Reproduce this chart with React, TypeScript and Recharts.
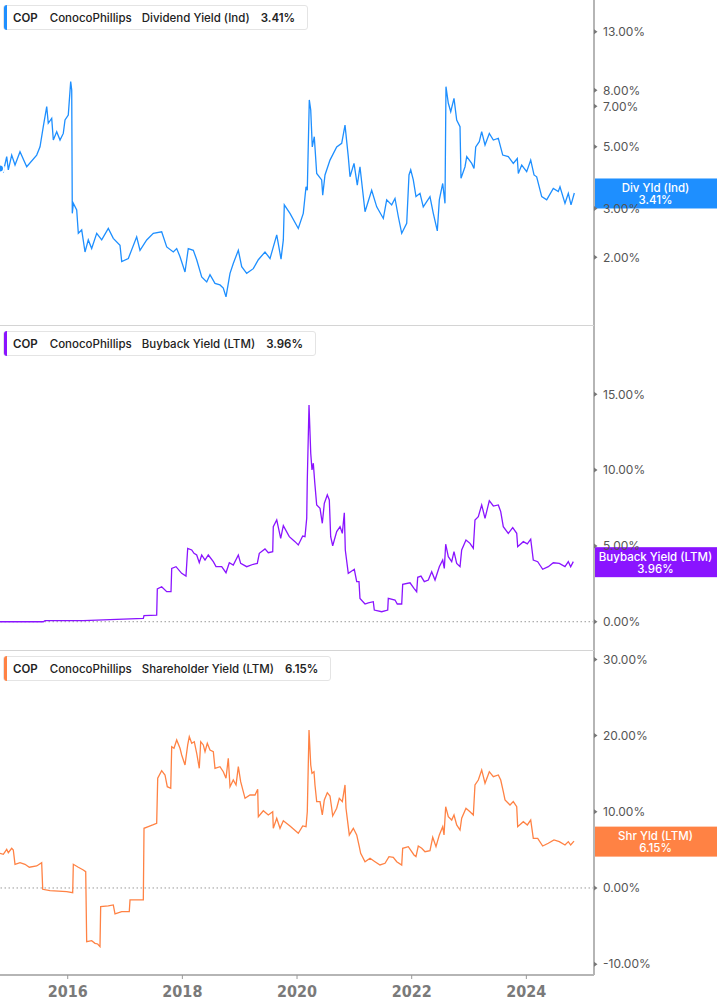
import React from 'react';
import { LineChart, Line, XAxis, YAxis, ReferenceLine } from 'recharts';

const X_DOMAIN: [number, number] = [2014.819, 2025.18];
const yearTicks = [2016, 2018, 2020, 2022, 2024];
const divTicks = [2, 3, 5, 7, 8, 13];
const buybackTicks = [0, 5, 10, 15];
const shrTicks = [-10, 0, 10, 20, 30];

const divLast = 3.41;
const buybackLast = 3.96;
const shrLast = 6.15;

// [decimal year, dividend yield %]
const dividendYield: [number, number][] = [
  [2014.819, 4.18], [2014.877, 4.07], [2014.936, 4.61], [2014.964, 4.13], [2015.023, 4.67],
  [2015.081, 4.3], [2015.168, 4.8], [2015.285, 4.24], [2015.459, 4.67], [2015.517, 5.0],
  [2015.574, 5.91], [2015.634, 6.98], [2015.661, 6.08], [2015.721, 6.33], [2015.749, 5.29],
  [2015.808, 5.67], [2015.866, 5.29], [2015.923, 5.59], [2015.953, 6.25], [2016.01, 6.51],
  [2016.052, 8.59], [2016.07, 8.01], [2016.08, 2.88], [2016.098, 3.13], [2016.157, 2.96],
  [2016.185, 2.44], [2016.244, 2.51], [2016.302, 2.09], [2016.359, 2.31], [2016.418, 2.15],
  [2016.506, 2.44], [2016.593, 2.31], [2016.708, 2.54], [2016.795, 2.34], [2016.912, 2.21],
  [2016.942, 1.93], [2017.057, 1.98], [2017.203, 2.37], [2017.261, 2.12], [2017.378, 2.31],
  [2017.493, 2.44], [2017.639, 2.47], [2017.727, 2.18], [2017.842, 2.09], [2017.901, 2.15],
  [2017.959, 2.01], [2018.046, 1.77], [2018.103, 2.15], [2018.191, 2.12], [2018.25, 1.96],
  [2018.337, 1.7], [2018.425, 1.63], [2018.482, 1.73], [2018.569, 1.61], [2018.656, 1.59],
  [2018.714, 1.55], [2018.761, 1.44], [2018.831, 1.75], [2018.888, 1.9], [2018.976, 2.12],
  [2019.035, 1.85], [2019.122, 1.75], [2019.237, 1.82], [2019.325, 1.96], [2019.441, 2.09],
  [2019.529, 1.98], [2019.646, 2.41], [2019.721, 1.97], [2019.761, 2.31], [2019.778, 3.09],
  [2019.877, 2.88], [2020.022, 2.54], [2020.109, 2.88], [2020.157, 3.59], [2020.179, 3.49],
  [2020.214, 7.38], [2020.239, 6.79], [2020.266, 5.0], [2020.301, 5.44], [2020.343, 4.01],
  [2020.43, 3.8], [2020.448, 3.35], [2020.488, 3.96], [2020.575, 4.48], [2020.692, 5.0],
  [2020.779, 5.15], [2020.837, 5.99], [2020.894, 4.61], [2020.924, 3.9], [2020.994, 4.36],
  [2021.051, 3.64], [2021.098, 4.24], [2021.186, 2.92], [2021.302, 3.49], [2021.39, 3.04],
  [2021.505, 2.76], [2021.564, 3.22], [2021.651, 3.09], [2021.709, 3.26], [2021.767, 2.8],
  [2021.826, 2.44], [2021.913, 2.65], [2021.953, 3.96], [2021.983, 4.13], [2022.028, 3.8],
  [2022.075, 3.31], [2022.145, 3.4], [2022.202, 3.04], [2022.319, 3.31], [2022.377, 2.88],
  [2022.447, 2.49], [2022.482, 3.22], [2022.541, 3.69], [2022.581, 3.13], [2022.598, 8.24],
  [2022.639, 7.18], [2022.681, 6.69], [2022.738, 7.48], [2022.785, 6.25], [2022.843, 5.91],
  [2022.86, 3.85], [2022.93, 4.24], [2022.96, 4.61], [2023.047, 4.36], [2023.087, 4.18],
  [2023.117, 5.0], [2023.179, 5.22], [2023.221, 5.67], [2023.279, 5.08], [2023.354, 5.59],
  [2023.424, 5.29], [2023.511, 5.37], [2023.588, 4.67], [2023.685, 4.61], [2023.772, 4.36],
  [2023.842, 4.54], [2023.86, 4.01], [2023.919, 4.3], [2024.006, 4.07], [2024.076, 4.48],
  [2024.134, 3.96], [2024.18, 3.9], [2024.268, 3.31], [2024.355, 3.22], [2024.47, 3.54],
  [2024.557, 3.45], [2024.587, 3.59], [2024.674, 3.13], [2024.732, 3.4], [2024.779, 3.09],
  [2024.837, 3.41],
];

// [decimal year, buyback yield %]
const buybackYield: [number, number][] = [
  [2014.819, 0.0], [2015.574, 0.0], [2015.604, 0.07], [2016.272, 0.07], [2017.319, 0.22],
  [2017.331, 0.4], [2017.552, 0.44], [2017.563, 2.16], [2017.639, 2.31], [2017.727, 1.98],
  [2017.802, 1.98], [2017.814, 3.52], [2017.889, 3.63], [2017.988, 3.19], [2018.063, 3.01],
  [2018.093, 4.84], [2018.163, 4.73], [2018.203, 4.51], [2018.25, 4.4], [2018.295, 3.89],
  [2018.337, 4.4], [2018.395, 4.07], [2018.452, 4.4], [2018.54, 3.96], [2018.587, 3.63],
  [2018.686, 3.63], [2018.761, 3.23], [2018.819, 3.89], [2018.888, 3.74], [2018.976, 4.4],
  [2019.017, 3.85], [2019.122, 3.63], [2019.237, 3.79], [2019.307, 3.85], [2019.342, 4.51],
  [2019.441, 4.8], [2019.499, 4.55], [2019.576, 4.62], [2019.586, 6.27], [2019.646, 6.71],
  [2019.715, 5.5], [2019.761, 6.33], [2019.865, 5.61], [2019.965, 5.28], [2020.022, 5.06],
  [2020.099, 5.65], [2020.139, 5.61], [2020.169, 6.82], [2020.179, 9.35], [2020.209, 14.29],
  [2020.239, 11.11], [2020.261, 10.01], [2020.284, 10.45], [2020.308, 9.23], [2020.343, 7.7],
  [2020.401, 7.48], [2020.441, 6.49], [2020.476, 7.81], [2020.528, 8.36], [2020.563, 8.03],
  [2020.587, 5.61], [2020.622, 5.01], [2020.692, 5.94], [2020.75, 6.27], [2020.79, 5.83],
  [2020.825, 7.19], [2020.842, 4.73], [2020.894, 3.19], [2020.936, 3.3], [2020.999, 3.46],
  [2021.041, 2.64], [2021.081, 2.64], [2021.098, 1.54], [2021.186, 1.17], [2021.243, 1.25],
  [2021.33, 1.32], [2021.348, 0.77], [2021.477, 0.66], [2021.582, 0.77], [2021.592, 1.54],
  [2021.709, 1.43], [2021.749, 1.17], [2021.826, 1.17], [2021.843, 2.47], [2021.971, 2.57],
  [2022.04, 2.2], [2022.087, 1.98], [2022.105, 2.93], [2022.162, 3.01], [2022.22, 2.64],
  [2022.29, 2.75], [2022.349, 3.3], [2022.407, 2.75], [2022.482, 3.63], [2022.541, 4.07],
  [2022.569, 3.52], [2022.593, 5.11], [2022.639, 4.29], [2022.698, 3.96], [2022.738, 4.62],
  [2022.785, 3.85], [2022.843, 3.63], [2022.872, 4.73], [2022.947, 5.39], [2023.017, 5.17],
  [2023.075, 4.84], [2023.104, 6.71], [2023.162, 6.93], [2023.221, 7.7], [2023.279, 6.82],
  [2023.354, 7.98], [2023.424, 7.63], [2023.511, 7.7], [2023.553, 7.26], [2023.598, 6.27],
  [2023.685, 5.83], [2023.762, 6.2], [2023.832, 5.83], [2023.849, 4.95], [2023.947, 5.28],
  [2024.017, 5.13], [2024.076, 5.44], [2024.121, 4.07], [2024.198, 3.96], [2024.285, 3.46],
  [2024.383, 3.63], [2024.47, 3.89], [2024.575, 3.85], [2024.674, 3.63], [2024.732, 3.96],
  [2024.773, 3.63], [2024.819, 3.96],
];

// [decimal year, shareholder yield %]
const shareholderYield: [number, number][] = [
  [2014.819, 4.55], [2014.877, 4.42], [2014.936, 5.08], [2014.964, 4.63], [2015.023, 5.21],
  [2015.051, 4.99], [2015.081, 3.11], [2015.168, 3.32], [2015.255, 3.11], [2015.33, 2.72],
  [2015.459, 2.89], [2015.546, 3.32], [2015.564, -0.17], [2015.691, -0.35], [2015.982, -0.49],
  [2016.087, -0.62], [2016.098, 3.11], [2016.185, 2.72], [2016.272, 2.36], [2016.314, 2.14],
  [2016.331, -7.05], [2016.418, -6.92], [2016.476, -7.26], [2016.523, -7.35], [2016.563, -7.7],
  [2016.575, -2.45], [2016.708, -2.36], [2016.795, -2.23], [2016.825, -3.41], [2016.942, -3.11],
  [2017.074, -3.11], [2017.087, -1.57], [2017.319, -1.57], [2017.331, 7.83], [2017.406, 8.04],
  [2017.483, 8.27], [2017.552, 8.49], [2017.57, 14.4], [2017.639, 15.39], [2017.697, 14.83],
  [2017.737, 13.29], [2017.797, 13.08], [2017.814, 18.54], [2017.854, 18.33], [2017.901, 19.42],
  [2017.959, 18.33], [2017.988, 17.45], [2018.046, 16.14], [2018.093, 18.77], [2018.121, 19.86],
  [2018.163, 18.99], [2018.208, 19.2], [2018.25, 17.68], [2018.295, 15.71], [2018.32, 19.2],
  [2018.365, 18.77], [2018.395, 17.89], [2018.435, 18.99], [2018.482, 18.11], [2018.54, 17.89],
  [2018.569, 15.71], [2018.656, 15.92], [2018.714, 15.26], [2018.761, 14.4], [2018.801, 17.02],
  [2018.831, 13.29], [2018.888, 14.17], [2018.936, 13.52], [2018.976, 15.92], [2019.017, 13.95],
  [2019.093, 11.77], [2019.18, 12.2], [2019.267, 12.2], [2019.314, 12.95], [2019.325, 9.36],
  [2019.412, 10.14], [2019.499, 9.58], [2019.576, 10.01], [2019.586, 7.83], [2019.646, 9.15],
  [2019.703, 7.83], [2019.761, 8.83], [2019.877, 8.14], [2020.022, 7.18], [2020.099, 8.14],
  [2020.157, 8.04], [2020.179, 10.01], [2020.209, 20.73], [2020.239, 16.14], [2020.261, 15.05],
  [2020.296, 15.26], [2020.313, 13.52], [2020.343, 11.33], [2020.401, 11.33], [2020.441, 9.58],
  [2020.476, 11.55], [2020.528, 12.51], [2020.575, 12.07], [2020.605, 10.46], [2020.622, 9.45],
  [2020.692, 10.46], [2020.737, 11.77], [2020.79, 11.33], [2020.837, 13.52], [2020.854, 10.46],
  [2020.912, 6.96], [2020.982, 7.83], [2021.041, 6.96], [2021.086, 5.42], [2021.11, 4.55],
  [2021.186, 3.45], [2021.273, 3.9], [2021.36, 3.45], [2021.447, 3.02], [2021.535, 3.24],
  [2021.604, 4.11], [2021.679, 4.03], [2021.739, 3.45], [2021.826, 3.02], [2021.843, 5.21],
  [2021.941, 5.42], [2022.04, 4.33], [2022.075, 4.11], [2022.115, 5.51], [2022.175, 5.21],
  [2022.232, 4.76], [2022.319, 4.9], [2022.367, 6.65], [2022.424, 5.42], [2022.482, 6.96],
  [2022.541, 8.04], [2022.564, 6.96], [2022.593, 10.67], [2022.639, 9.36], [2022.698, 8.92],
  [2022.738, 9.58], [2022.785, 8.27], [2022.843, 7.61], [2022.872, 9.15], [2022.947, 10.46],
  [2023.017, 10.01], [2023.075, 9.58], [2023.104, 13.52], [2023.162, 14.17], [2023.221, 15.49],
  [2023.279, 13.74], [2023.354, 15.26], [2023.424, 14.61], [2023.511, 14.83], [2023.553, 14.17],
  [2023.598, 12.64], [2023.628, 11.55], [2023.715, 10.89], [2023.772, 11.33], [2023.832, 10.67],
  [2023.849, 8.04], [2023.947, 8.7], [2024.017, 8.27], [2024.076, 8.92], [2024.121, 6.52],
  [2024.198, 6.52], [2024.285, 5.51], [2024.383, 5.87], [2024.482, 6.3], [2024.575, 6.08],
  [2024.674, 5.64], [2024.732, 6.08], [2024.773, 5.64], [2024.831, 6.15],
];

const toRows = (pairs: [number, number][]) => pairs.map(([t, v]) => ({ t, v }));

const W = 717;
const AXIS_W = 123;
const FONT = "Inter, 'Noto Sans', sans-serif";

function YTick(props: any) {
  const { x, y, payload } = props;
  return (
    <g>
      <path d={`M${x},${y - 2.5}L${x + 3.5},${y}L${x},${y + 2.5}Z`} fill="#777" />
      <text x={x + 9} y={y + 4.3} fontSize={12} fill="#555" fontFamily={FONT}>
        {`${Number(payload.value).toFixed(2)}%`}
      </text>
    </g>
  );
}

function XTick(props: any) {
  const { x, y, payload } = props;
  return (
    <text
      x={x}
      y={y + 14}
      textAnchor="middle"
      fontSize={16}
      fontWeight="bold"
      fill="#7a7a7a"
      fontFamily="'Liberation Sans Narrow', 'DejaVu Sans Condensed', sans-serif"
    >
      {payload.value}
    </text>
  );
}

function makeBadge(name: string, value: number, color: string) {
  return (props: any) => {
    const vb = props.viewBox || {};
    const x = (vb.x ?? 0) + (vb.width ?? 0);
    const y = vb.y ?? 0;
    return (
      <g>
        <rect x={x} y={y - 14.5} width={AXIS_W} height={30} fill={color} />
        <text x={x + AXIS_W / 2} y={y - 1} textAnchor="middle" fill="#fff" fontSize={11.5} fontWeight={500} fontFamily={FONT}>
          {name}
        </text>
        <text x={x + AXIS_W / 2} y={y + 11} textAnchor="middle" fill="#fff" fontSize={11.5} fontWeight={500} fontFamily={FONT}>
          {`${value.toFixed(2)}%`}
        </text>
      </g>
    );
  };
}

function LegendBox({ color, metric, value }: { color: string; metric: string; value: number }) {
  return (
    <div
      style={{
        position: 'absolute',
        left: 3,
        top: 5,
        height: 25,
        display: 'flex',
        alignItems: 'center',
        background: '#fff',
        border: '1px solid #e4e4e4',
        borderRadius: 3,
        paddingLeft: 9,
        paddingRight: 12,
        fontFamily: FONT,
        fontSize: 11.5,
        fontWeight: 500,
        color: '#222',
        whiteSpace: 'nowrap',
        boxSizing: 'border-box',
      }}
    >
      <div style={{ position: 'absolute', left: 0, top: -1, bottom: -1, width: 3, background: color, borderRadius: '3px 0 0 3px' }} />
      <span style={{ fontWeight: 600 }}>COP</span>
      <span style={{ marginLeft: 12 }}>ConocoPhillips</span>
      <span style={{ marginLeft: 10 }}>{metric}</span>
      <span style={{ marginLeft: 11, fontWeight: 600 }}>{`${value.toFixed(2)}%`}</span>
    </div>
  );
}

type PanelProps = {
  top: number;
  height: number;
  rows: { t: number; v: number }[];
  color: string;
  domain: [number, number];
  ticks: number[];
  log?: boolean;
  showX?: boolean;
  zero?: boolean;
  badgeName: string;
  last: number;
  metric: string;
};

function Panel(p: PanelProps) {
  return (
    <div style={{ position: 'absolute', left: 0, top: p.top, width: W, height: p.height }}>
      <LineChart width={W} height={p.height} data={p.rows} margin={{ top: 0, right: 0, bottom: 0, left: 0 }}>
        <XAxis
          dataKey="t"
          type="number"
          domain={X_DOMAIN}
          allowDataOverflow
          ticks={yearTicks}
          hide={!p.showX}
          height={p.showX ? 30 : 0}
          tick={<XTick />}
          tickSize={4}
          tickMargin={4}
          tickLine={{ stroke: '#999' }}
          axisLine={{ stroke: '#b5b5b5', strokeWidth: 2 }}
          interval={0}
        />
        <YAxis
          orientation="right"
          width={AXIS_W}
          type="number"
          scale={p.log ? 'log' : 'linear'}
          domain={p.domain}
          allowDataOverflow
          ticks={p.ticks}
          interval={0}
          tick={<YTick />}
          tickLine={false}
          tickSize={0}
          tickMargin={0}
          axisLine={{ stroke: '#b5b5b5', strokeWidth: 2 }}
        />
        {p.zero && <ReferenceLine y={0} stroke="#999" strokeWidth={1} strokeDasharray="1.5 2.5" />}
        <Line dataKey="v" type="linear" stroke={p.color} strokeWidth={1.3} dot={false} isAnimationActive={false} />
        <ReferenceLine y={p.last} stroke="none" ifOverflow="visible" label={makeBadge(p.badgeName, p.last, p.color)} />
      </LineChart>
      <LegendBox color={p.color} metric={p.metric} value={p.last} />
    </div>
  );
}

export default function App() {
  return (
    <div style={{ position: 'absolute', left: 0, top: 0, width: W, height: 1005, background: '#fff', overflow: 'hidden' }}>
      <Panel
        top={0}
        height={326}
        rows={toRows(dividendYield)}
        color="#1E8FFF"
        domain={[1.131, 16.91]}
        ticks={divTicks}
        log
        badgeName="Div Yld (Ind)"
        last={divLast}
        metric="Dividend Yield (Ind)"
      />
      <Panel
        top={326}
        height={325}
        rows={toRows(buybackYield)}
        color="#8A14FF"
        domain={[-1.93, 19.5]}
        ticks={buybackTicks}
        zero
        badgeName="Buyback Yield (LTM)"
        last={buybackLast}
        metric="Buyback Yield (LTM)"
      />
      <Panel
        top={651}
        height={354}
        rows={toRows(shareholderYield)}
        color="#FF8244"
        domain={[-11.42, 31.1]}
        ticks={shrTicks}
        showX
        zero
        badgeName="Shr Yld (LTM)"
        last={shrLast}
        metric="Shareholder Yield (LTM)"
      />
      <div style={{ position: 'absolute', left: 0, top: 325, width: 594, height: 1, background: '#d4d4d4' }} />
      <div style={{ position: 'absolute', left: 0, top: 650, width: 594, height: 1, background: '#d4d4d4' }} />
    </div>
  );
}
